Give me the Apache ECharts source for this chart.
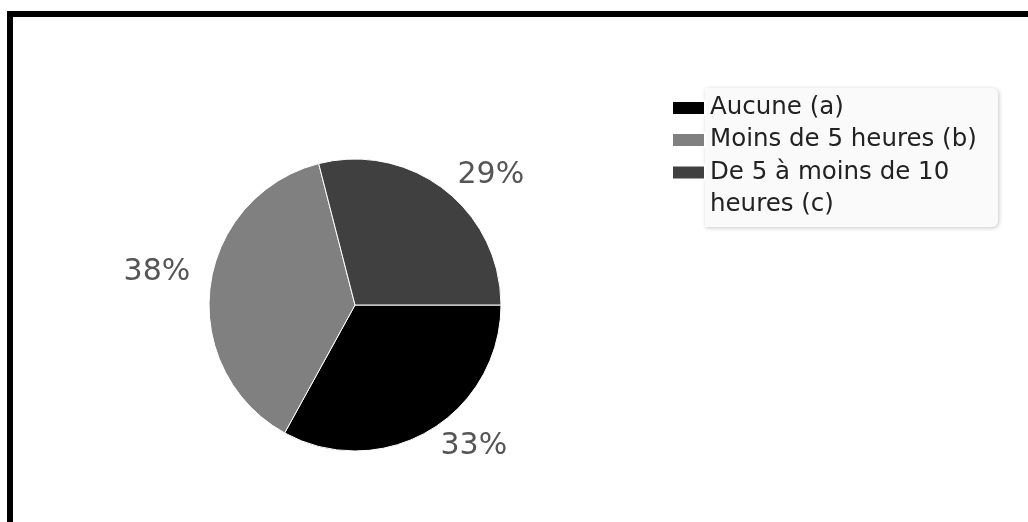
<!DOCTYPE html>
<html lang="fr">
<head>
    <meta charset="UTF-8">
    <title>Répartition des heures</title>
    <style>
        html, body {
            margin: 0;
            padding: 0;
            background: #fff;
        }

        .frame {
            position: relative;
            width: 1028px;
            height: 522px;
            overflow: hidden;
        }

        #chart {
            width: 1028px;
            height: 522px;
        }

        .edge {
            position: absolute;
            left: 7px;
            top: 11px;
            right: 0;
            bottom: 0;
            border-top: 6px solid #000;
            border-left: 6px solid #000;
            pointer-events: none;
        }
    </style>
</head>
<body>
    <div class="frame">
        <div id="chart"></div>
        <div class="edge"></div>
    </div>

    <script src="https://cdn.jsdelivr.net/npm/echarts@6/dist/echarts.min.js"></script>
    <script>
        // données
        const categories = ['Aucune (a)', 'Moins de 5 heures (b)', 'De 5 à moins de 10 heures (c)'];
        const values = [33, 38, 29];
        const colors = ['#000000', '#808080', '#404040'];

        const chart = echarts.init(document.getElementById('chart'));

        // le dernier libellé passe sur deux lignes : une ligne vide devant
        // garde le carré en face de la première ligne
        const lastName = categories[categories.length - 1];
        const legendData = categories.map(name => {
            const item = { name: name };
            if (name === lastName) {
                item.textStyle = { padding: [1, 0, 0, 0] };
            }
            return item;
        });

        chart.setOption({
            animation: false,
            textStyle: {
                fontFamily: 'DejaVu Sans'
            },
            graphic: [{
                type: 'rect',
                z: 0,
                shape: { x: 705, y: 88, width: 293, height: 139, r: [0, 6, 6, 0] },
                style: {
                    fill: '#fafafa',
                    shadowBlur: 4,
                    shadowColor: 'rgba(0,0,0,0.22)',
                    shadowOffsetX: 1,
                    shadowOffsetY: 1
                }
            }],
            legend: {
                orient: 'vertical',
                left: 671,
                top: 60,
                padding: 0,
                itemGap: -64,
                itemWidth: 33,
                itemHeight: 14,
                icon: 'rect',
                data: legendData,
                formatter: name => (name === lastName ? '\n' + name : name),
                textStyle: {
                    fontFamily: 'DejaVu Sans',
                    fontSize: 24.5,
                    lineHeight: 32,
                    color: '#222',
                    width: 290,
                    overflow: 'break',
                    padding: [32, 0, 32, 0]
                }
            },
            series: [{
                type: 'pie',
                center: [355, 305],
                radius: 146,
                startAngle: 0,
                clockwise: true,
                avoidLabelOverlap: false,
                color: colors,
                itemStyle: {
                    borderColor: '#fff',
                    borderWidth: 1
                },
                label: {
                    show: true,
                    position: 'outside',
                    formatter: '{d}%',
                    fontFamily: 'DejaVu Sans',
                    fontSize: 30,
                    color: '#555',
                    distanceToLabelLine: 2
                },
                labelLine: {
                    show: false,
                    length: 18,
                    length2: 0
                },
                emphasis: { disabled: true },
                data: categories.map((name, i) => {
                    const d = { name: name, value: values[i] };
                    if (i === 1) {
                        d.label = { offset: [0, -12] };
                    }
                    return d;
                })
            }]
        });

        window.addEventListener('resize', function() {
            chart.resize();
        });
    </script>
</body>
</html>
